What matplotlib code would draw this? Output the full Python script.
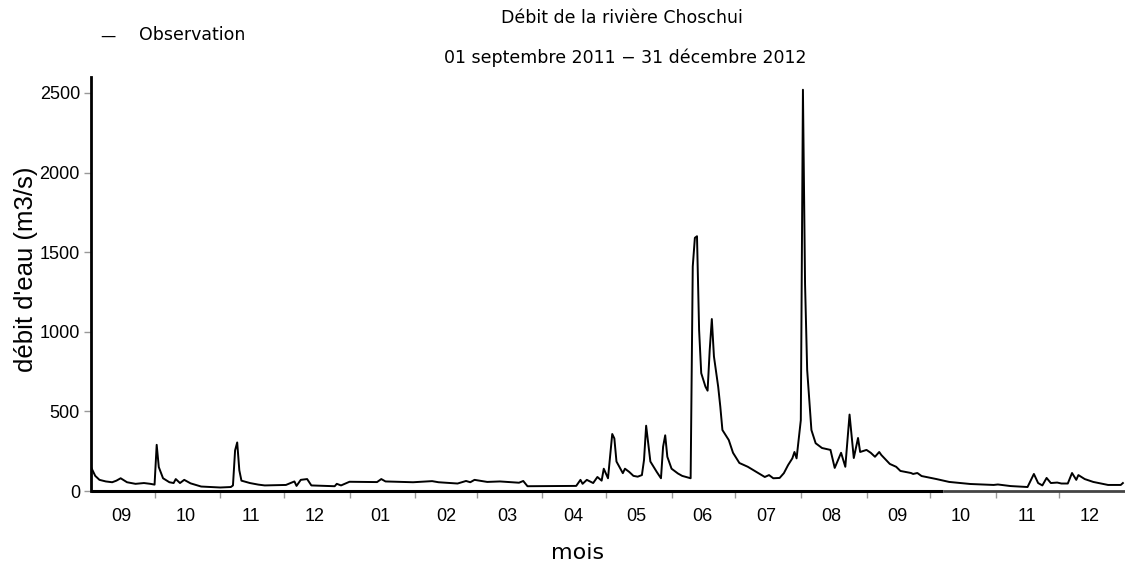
import matplotlib
matplotlib.use("Agg")
import matplotlib.pyplot as plt
import matplotlib.dates as mdates
import pandas as pd
import numpy as np

dates = [
    "2011-09-01", "2011-09-03", "2011-09-05", "2011-09-08", "2011-09-11", "2011-09-13",
    "2011-09-15", "2011-09-18", "2011-09-22", "2011-09-26", "2011-09-29", "2011-10-01",
    "2011-10-02", "2011-10-03", "2011-10-05", "2011-10-08", "2011-10-10", "2011-10-11",
    "2011-10-13", "2011-10-15", "2011-10-18", "2011-10-20", "2011-10-23", "2011-11-01",
    "2011-11-06", "2011-11-07", "2011-11-08", "2011-11-09", "2011-11-10", "2011-11-11",
    "2011-11-15", "2011-11-19", "2011-11-22", "2011-12-02", "2011-12-06", "2011-12-07",
    "2011-12-09", "2011-12-12", "2011-12-14", "2011-12-25", "2011-12-26", "2011-12-28",
    "2012-01-01", "2012-01-14", "2012-01-16", "2012-01-18", "2012-01-31", "2012-02-09",
    "2012-02-12", "2012-02-21", "2012-02-25", "2012-02-27", "2012-02-29", "2012-03-06",
    "2012-03-12", "2012-03-21", "2012-03-23", "2012-03-25", "2012-04-17", "2012-04-19",
    "2012-04-20", "2012-04-22", "2012-04-25", "2012-04-27", "2012-04-29", "2012-04-30",
    "2012-05-02", "2012-05-04", "2012-05-05", "2012-05-06", "2012-05-09", "2012-05-10",
    "2012-05-12", "2012-05-14", "2012-05-16", "2012-05-18", "2012-05-19", "2012-05-20",
    "2012-05-22", "2012-05-25", "2012-05-27", "2012-05-28", "2012-05-29", "2012-05-30",
    "2012-06-01", "2012-06-04", "2012-06-06", "2012-06-10", "2012-06-11", "2012-06-12",
    "2012-06-13", "2012-06-14", "2012-06-15", "2012-06-17", "2012-06-18", "2012-06-19",
    "2012-06-20", "2012-06-21", "2012-06-23", "2012-06-24", "2012-06-25", "2012-06-28",
    "2012-06-30", "2012-07-03", "2012-07-07", "2012-07-11", "2012-07-15", "2012-07-17",
    "2012-07-19", "2012-07-22", "2012-07-24", "2012-07-26", "2012-07-28", "2012-07-29",
    "2012-07-30", "2012-08-01", "2012-08-02", "2012-08-03", "2012-08-04", "2012-08-06",
    "2012-08-08", "2012-08-11", "2012-08-15", "2012-08-17", "2012-08-20", "2012-08-22",
    "2012-08-24", "2012-08-26", "2012-08-28", "2012-08-29", "2012-09-01", "2012-09-03",
    "2012-09-05", "2012-09-07", "2012-09-08", "2012-09-12", "2012-09-15", "2012-09-17",
    "2012-09-22", "2012-09-23", "2012-09-25", "2012-09-27", "2012-10-04", "2012-10-10",
    "2012-10-20", "2012-10-31", "2012-11-02", "2012-11-08", "2012-11-16", "2012-11-19",
    "2012-11-21", "2012-11-23", "2012-11-25", "2012-11-27", "2012-11-30", "2012-12-02",
    "2012-12-05", "2012-12-07", "2012-12-09", "2012-12-10", "2012-12-13", "2012-12-17",
    "2012-12-24", "2012-12-30", "2012-12-31",
]
debit = [
    150, 95, 70, 60, 55, 65,
    80, 55, 45, 50, 45, 40,
    290, 150, 80, 55, 50, 75,
    50, 70, 48, 40, 28, 22,
    25, 35, 255, 305, 130, 65,
    50, 40, 35, 38, 60, 32,
    70, 75, 35, 30, 45, 35,
    58, 56, 75, 60, 55, 62,
    55, 47, 63, 55, 70, 57,
    60, 52, 63, 30, 32, 70,
    45, 70, 50, 88, 65, 140,
    80, 358, 330, 185, 112, 140,
    120, 95, 90, 100, 195, 410,
    185, 120, 80, 278, 350, 215,
    140, 110, 95, 80, 1410, 1590,
    1600, 1010, 740, 655, 630, 885,
    1080, 845, 655, 530, 383, 320,
    240, 176, 152, 120, 88, 100,
    80, 82, 112, 163, 205, 245,
    205, 445, 2520, 1300, 760, 383,
    300, 270, 258, 145, 240, 152,
    480, 207, 333, 245, 258, 240,
    215, 245, 226, 170, 152, 126,
    113, 107, 113, 94, 75, 57,
    44, 38, 41, 31, 25, 107,
    50, 35, 82, 50, 53, 47,
    47, 113, 70, 100, 75, 57,
    38, 38, 50,
]
month_labels = ["09", "10", "11", "12", "01", "02", "03", "04",
                "05", "06", "07", "08", "09", "10", "11", "12"]
y_ticks = [0, 500, 1000, 1500, 2000, 2500]

x = pd.to_datetime(dates)

fig = plt.figure(figsize=(11.25, 5.68), dpi=100)
ax = fig.add_axes([91/1125, 1-491/568, 1-91/1125, (491-77)/568])
ax.plot(x, debit, color="black", lw=1.4)

ax.set_xlim(pd.Timestamp("2011-09-01"), pd.Timestamp("2013-01-01"))
ax.set_ylim(0, 2600)

month_starts = pd.date_range("2011-10-01", "2012-12-01", freq="MS")
mid_months = pd.date_range("2011-09-01", "2012-12-01", freq="MS") + pd.Timedelta(days=14.5)
ax.set_xticks(month_starts)
ax.set_xticklabels([])
ax.set_xticks(mid_months, minor=True)
ax.set_xticklabels(month_labels, minor=True, family="Liberation Sans", fontsize=13)
ax.tick_params(axis="x", which="major", length=5, width=1, color="#999999", direction="out")
ax.tick_params(axis="x", which="minor", length=0, pad=12)

ax.set_yticks(y_ticks)
ax.set_yticklabels([str(v) for v in y_ticks], family="Liberation Sans", fontsize=13)
ax.tick_params(axis="y", length=5, width=1, color="#999999", direction="out", pad=3)

for s in ["top", "right"]:
    ax.spines[s].set_visible(False)
ax.spines["left"].set_linewidth(2)
ax.spines["bottom"].set_visible(False)
ax.plot([0, 0.824], [0, 0], transform=ax.transAxes, color="black", lw=2.2,
        clip_on=False, solid_capstyle="butt")
ax.plot([0.824, 1.0], [0, 0], transform=ax.transAxes, color="#444444", lw=2.0,
        clip_on=False, solid_capstyle="butt")

fig.text(26/1125, 1-269/568, "débit d'eau (m3/s)", rotation=90, ha="center", va="center",
         family="Liberation Sans", fontsize=18.5)
fig.text(578/1125, 1-553/568, "mois", ha="center", va="center", fontsize=16)
fig.text(622/1125, 1-18/568, "Débit de la rivière Choschui", ha="center", va="center", fontsize=12.5)
fig.text(625/1125, 1-58/568, "01 septembre 2011 \u2212 31 décembre 2012", ha="center", va="center", fontsize=12.5)
fig.text(108/1125, 1-36/568, "\u2014", ha="center", va="center", fontsize=11)
fig.text(139/1125, 1-35/568, "Observation", ha="left", va="center", fontsize=12.5)

fig.savefig("out.png", dpi=100)
